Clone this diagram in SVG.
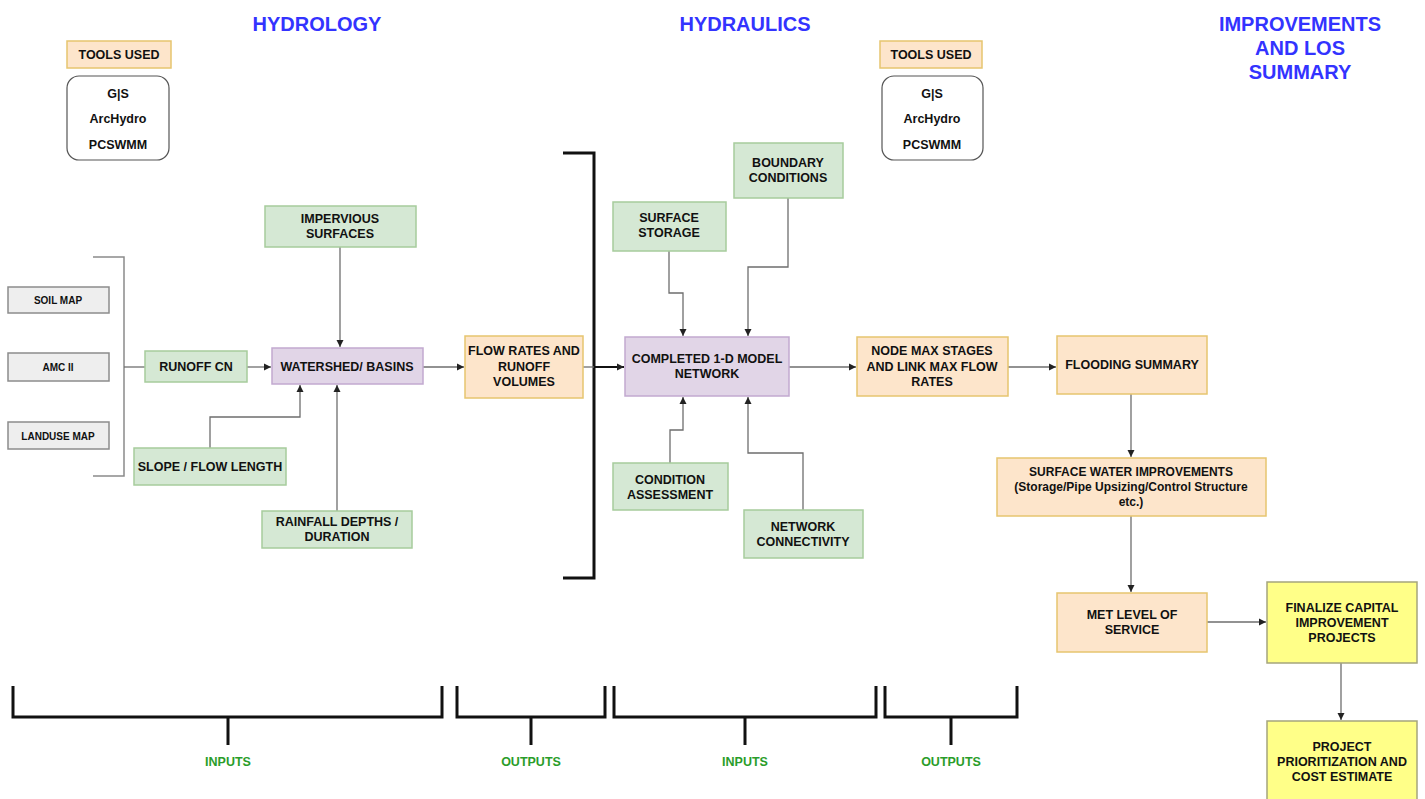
<svg xmlns="http://www.w3.org/2000/svg" width="1425" height="799" viewBox="0 0 1425 799">
<style>
.g{fill:#d5e8d4;stroke:#a6cc9c;stroke-width:1.5}
.p{fill:#e1d5e7;stroke:#c2a9d0;stroke-width:1.5}
.o{fill:#fde5cb;stroke:#e6c56f;stroke-width:1.5}
.y{fill:#ffff88;stroke:#a5a57c;stroke-width:1.5}
.gr{fill:#eeeeee;stroke:#8c8c8c;stroke-width:1.5}
.w{fill:#ffffff;stroke:#555555;stroke-width:1.2}
.t{font-family:"Liberation Sans",Arial,sans-serif;font-weight:bold;font-size:12.5px;text-anchor:middle;fill:#111111}
.s{font-size:10px}
.h{font-family:"Liberation Sans",Arial,sans-serif;font-weight:bold;font-size:20px;text-anchor:middle;fill:#3333ff}
.lab{fill:#2a9d2a}
.c{fill:none;stroke:#6e6e6e;stroke-width:1.3}
.br{fill:none;stroke:#111111;stroke-width:3}
.bg{fill:none;stroke:#8a8a8a;stroke-width:1.5}
</style>
<defs>
<marker id="ah" markerWidth="8" markerHeight="8" refX="7" refY="4" orient="auto" markerUnits="userSpaceOnUse">
<path d="M0,0.5 L7,4 L0,7.5 Z" fill="#222222"/>
</marker>
</defs>
<rect width="1425" height="799" fill="#ffffff"/>

<g id="titles">
<text class="h" x="317" y="31">HYDROLOGY</text>
<text class="h" x="745" y="31">HYDRAULICS</text>
<text class="h" x="1300" y="31">IMPROVEMENTS</text>
<text class="h" x="1300" y="55">AND LOS</text>
<text class="h" x="1300" y="79">SUMMARY</text>
</g>

<g id="tools-left">
<rect class="o" x="67" y="41" width="104" height="27"/>
<text class="t" x="119" y="59">TOOLS USED</text>
<rect class="w" x="67" y="76" width="102" height="84" rx="12"/>
<text class="t" x="118" y="98">G|S</text>
<text class="t" x="118" y="123">ArcHydro</text>
<text class="t" x="118" y="149">PCSWMM</text>
</g>
<g id="tools-right">
<rect class="o" x="880" y="41" width="102" height="27"/>
<text class="t" x="931" y="59">TOOLS USED</text>
<rect class="w" x="882" y="76" width="101" height="84" rx="12"/>
<text class="t" x="932" y="98">G|S</text>
<text class="t" x="932" y="123">ArcHydro</text>
<text class="t" x="932" y="149">PCSWMM</text>
</g>

<g id="connectors">
<path class="bg" d="M93,257 H124 V476 H93"/>
<path class="c" d="M124,367 H145"/>
<path class="c" d="M247,367 H271" marker-end="url(#ah)"/>
<path class="c" d="M340,247 V347" marker-end="url(#ah)"/>
<path class="c" d="M210,448 V417 H300 V385" marker-end="url(#ah)"/>
<path class="c" d="M337,511 V385" marker-end="url(#ah)"/>
<path class="c" d="M423,367 H464" marker-end="url(#ah)"/>
<path class="br" d="M563,153 H594 V578 H563"/>
<path class="c" d="M583,367 H594"/>
<path d="M594,367 H624" fill="none" stroke="#111111" stroke-width="2" marker-end="url(#ah)"/>
<path class="c" d="M669,251 V293 H683 V336" marker-end="url(#ah)"/>
<path class="c" d="M788,198 V267 H748 V336" marker-end="url(#ah)"/>
<path class="c" d="M670,463 V430 H683 V397" marker-end="url(#ah)"/>
<path class="c" d="M803,510 V453 H748 V397" marker-end="url(#ah)"/>
<path class="c" d="M789,367 H856" marker-end="url(#ah)"/>
<path class="c" d="M1008,367 H1056" marker-end="url(#ah)"/>
<path class="c" d="M1131,394 V457" marker-end="url(#ah)"/>
<path class="c" d="M1131,516 V592" marker-end="url(#ah)"/>
<path class="c" d="M1207,622 H1266" marker-end="url(#ah)"/>
<path class="c" d="M1341,663 V720" marker-end="url(#ah)"/>
<path class="br" d="M13,686 V717 H442 V686 M228,717 V745"/>
<path class="br" d="M457,686 V717 H605 V686 M531,717 V745"/>
<path class="br" d="M614,686 V717 H876 V686 M745,717 V745"/>
<path class="br" d="M885,686 V717 H1017 V686 M951,717 V745"/>
</g>

<g id="soil-map"><rect class="gr" x="8" y="287" width="101" height="26"/><text class="t s" x="58" y="304">SOIL MAP</text></g>
<g id="amc-ii"><rect class="gr" x="8" y="353" width="101" height="28"/><text class="t s" x="58" y="371">AMC II</text></g>
<g id="landuse-map"><rect class="gr" x="8" y="422" width="101" height="27"/><text class="t s" x="58" y="440">LANDUSE MAP</text></g>

<g id="runoff-cn"><rect class="g" x="145" y="351" width="102" height="31"/><text class="t" x="196" y="371">RUNOFF CN</text></g>
<g id="impervious"><rect class="g" x="265" y="206" width="151" height="41"/><text class="t" x="340" y="223">IMPERVIOUS</text><text class="t" x="340" y="238">SURFACES</text></g>
<g id="watershed"><rect class="p" x="272" y="348" width="151" height="36"/><text class="t" x="347" y="371">WATERSHED/ BASINS</text></g>
<g id="slope"><rect class="g" x="134" y="448" width="152" height="37"/><text class="t" x="210" y="471">SLOPE / FLOW LENGTH</text></g>
<g id="rainfall"><rect class="g" x="262" y="511" width="150" height="37"/><text class="t" x="337" y="526">RAINFALL DEPTHS /</text><text class="t" x="337" y="541">DURATION</text></g>
<g id="flow-rates"><rect class="o" x="465" y="336" width="118" height="62"/><text class="t" x="524" y="355">FLOW RATES AND</text><text class="t" x="524" y="371">RUNOFF</text><text class="t" x="524" y="386">VOLUMES</text></g>

<g id="surface-storage"><rect class="g" x="613" y="202" width="113" height="49"/><text class="t" x="669" y="222">SURFACE</text><text class="t" x="669" y="237">STORAGE</text></g>
<g id="boundary"><rect class="g" x="734" y="143" width="109" height="55"/><text class="t" x="788" y="167">BOUNDARY</text><text class="t" x="788" y="182">CONDITIONS</text></g>
<g id="completed"><rect class="p" x="625" y="337" width="164" height="59"/><text class="t" x="707" y="363">COMPLETED 1-D MODEL</text><text class="t" x="707" y="378">NETWORK</text></g>
<g id="condition"><rect class="g" x="613" y="463" width="115" height="47"/><text class="t" x="670" y="484">CONDITION</text><text class="t" x="670" y="499">ASSESSMENT</text></g>
<g id="connectivity"><rect class="g" x="744" y="510" width="119" height="48"/><text class="t" x="803" y="531">NETWORK</text><text class="t" x="803" y="546">CONNECTIVITY</text></g>

<g id="node-max"><rect class="o" x="857" y="337" width="151" height="59"/><text class="t" x="932" y="355">NODE MAX STAGES</text><text class="t" x="932" y="371">AND LINK MAX FLOW</text><text class="t" x="932" y="386">RATES</text></g>
<g id="flooding"><rect class="o" x="1057" y="336" width="150" height="58"/><text class="t" x="1132" y="369">FLOODING SUMMARY</text></g>
<g id="surface-water"><rect class="o" x="997" y="458" width="269" height="58"/><text class="t" x="1131" y="476" style="font-size:12px">SURFACE WATER IMPROVEMENTS</text><text class="t" x="1131" y="491" style="font-size:12px">(Storage/Pipe Upsizing/Control Structure</text><text class="t" x="1131" y="506" style="font-size:12px">etc.)</text></g>
<g id="met-los"><rect class="o" x="1057" y="593" width="150" height="59"/><text class="t" x="1132" y="619">MET LEVEL OF</text><text class="t" x="1132" y="634">SERVICE</text></g>
<g id="finalize"><rect class="y" x="1267" y="582" width="150" height="81"/><text class="t" x="1342" y="612">FINALIZE CAPITAL</text><text class="t" x="1342" y="627">IMPROVEMENT</text><text class="t" x="1342" y="642">PROJECTS</text></g>
<g id="prioritization"><rect class="y" x="1267" y="721" width="150" height="82"/><text class="t" x="1342" y="751">PROJECT</text><text class="t" x="1342" y="766">PRIORITIZATION AND</text><text class="t" x="1342" y="781">COST ESTIMATE</text></g>

<g id="labels">
<text class="t lab" x="228" y="766">INPUTS</text>
<text class="t lab" x="531" y="766">OUTPUTS</text>
<text class="t lab" x="745" y="766">INPUTS</text>
<text class="t lab" x="951" y="766">OUTPUTS</text>
</g>
</svg>
